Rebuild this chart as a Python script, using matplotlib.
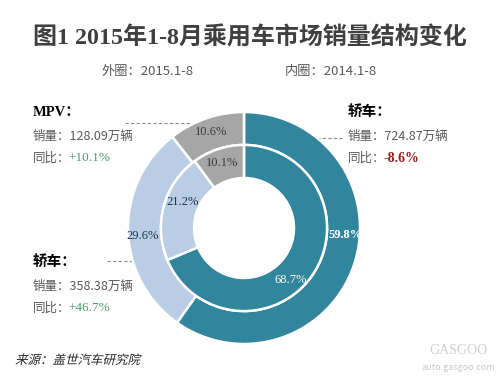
import matplotlib
matplotlib.use("Agg")
import matplotlib.pyplot as plt
from matplotlib.textpath import TextPath
from matplotlib.patches import PathPatch
from matplotlib.font_manager import FontProperties
from matplotlib.transforms import Affine2D

plt.rcParams['font.family'] = ['Noto Sans CJK SC', 'DejaVu Sans']

# data
segments = ['轿车', 'SUV', 'MPV']
outer_2015 = [59.8, 29.6, 10.6]
inner_2014 = [68.7, 21.2, 10.1]
note_titles = ['轿车：', '轿车：', 'MPV：']
note_sales = ['724.87', '358.38', '128.09']
note_yoy = ['-8.6%', '+46.7%', '+10.1%']

colors = ['#31859C', '#B9CDE5', '#A6A6A6']
lbl_colors = ['white', '#1F3550', '#3A3A3A']

W, H = 500, 376
fig = plt.figure(figsize=(5, 3.76), dpi=100)
fig.patch.set_facecolor('white')


def fx(x, y):
    # pixel position (from top-left) -> figure fraction
    return x / W, 1 - y / H


serif_cjk = ['Liberation Serif', 'Noto Sans CJK SC']

# title + subtitles
fig.text(*fx(250, 38), '图1 2015年1-8月乘用车市场销量结构变化', ha='center', va='center',
         fontsize=17.3, fontweight='bold', color='#3F3F3F', family=serif_cjk)
fig.text(*fx(148, 71), '外圈：2015.1-8', ha='center', va='center', fontsize=9.5, color='#595959')
fig.text(*fx(331, 71), '内圈：2014.1-8', ha='center', va='center', fontsize=9.5, color='#595959')

# donut: outer ring 2015, inner ring 2014
cx, cy, R = 244, 228, 116
ax = fig.add_axes([(cx - R) / W, (H - cy - R) / H, 2 * R / W, 2 * R / H])
ax.pie(outer_2015, radius=1.0, colors=colors, startangle=90, counterclock=False,
       wedgeprops=dict(width=0.284, edgecolor='white', linewidth=1.8))
ax.pie(inner_2014, radius=0.716, colors=colors, startangle=90, counterclock=False,
       wedgeprops=dict(width=0.285, edgecolor='white', linewidth=1.8))
ax.set_xlim(-1, 1)
ax.set_ylim(-1, 1)
ax.set_aspect('equal')
ax.axis('off')

# percentage labels (placed like the original, not on mid-angles)
outer_pos = [(0.88, -0.06), (-0.87, -0.07), (-0.28, 0.83)]
inner_pos = [(0.40, -0.45), (-0.53, 0.22), (-0.19, 0.56)]
for ring, (vals, pos) in enumerate(((outer_2015, outer_pos), (inner_2014, inner_pos))):
    for i, v in enumerate(vals):
        ax.text(pos[i][0], pos[i][1], f'{v}%', ha='center', va='center', fontsize=9,
                color=lbl_colors[i], family='Liberation Serif',
                fontweight='bold' if (i == 0 and ring == 0) else 'normal')

# side notes
note_xy = [(348, 113), (33, 263), (33, 113)]
yoy_colors = ['#9B1B1B', '#4E9A6E', '#4E9A6E']
for i in range(3):
    x0, y0 = note_xy[i]
    fig.text(*fx(x0, y0), note_titles[i], ha='left', va='center', fontsize=10.5,
             fontweight='bold', color='black', family=serif_cjk)
    fig.text(*fx(x0, y0 + 23), f'销量：{note_sales[i]}万辆', ha='left', va='center',
             fontsize=9, color='#595959')
    fig.text(*fx(x0, y0 + 45), '同比：', ha='left', va='center', fontsize=9, color='#595959')
    fig.text(*fx(x0 + 35, y0 + 45), note_yoy[i], ha='left', va='center',
             fontsize=10 if i == 0 else 9.5, color=yoy_colors[i], family='Liberation Serif',
             fontweight='bold' if i == 0 else 'normal')

# dashed leader lines (drawn under the donut)
for (xa, xb, yl) in [(125, 194, 123), (300, 343, 138), (107, 142, 261)]:
    fig.add_artist(plt.Line2D([xa / W, xb / W], [1 - yl / H] * 2, transform=fig.transFigure,
                              color='#8C8C8C', lw=0.8, ls=(0, (3, 2)), zorder=-1))

# source, slanted by hand since the CJK font has no italic
src = TextPath((0, 0), '来源：盖世汽车研究院', size=12.5,
               prop=FontProperties(family='Noto Sans CJK SC'))
fig.add_artist(PathPatch(src, transform=Affine2D().skew_deg(14, 0).translate(15, H - 364),
                         facecolor='#262626', edgecolor='none'))

# watermark
fig.text(*fx(458, 350), 'GASGOO', ha='center', va='center', fontsize=10, color='#D0D0D0',
         family='Liberation Serif')
fig.text(*fx(458, 368), 'auto.gasgoo.com', ha='center', va='center', fontsize=6.5, color='#C8C8C8')

fig.savefig('out.png', dpi=100, facecolor='white')
